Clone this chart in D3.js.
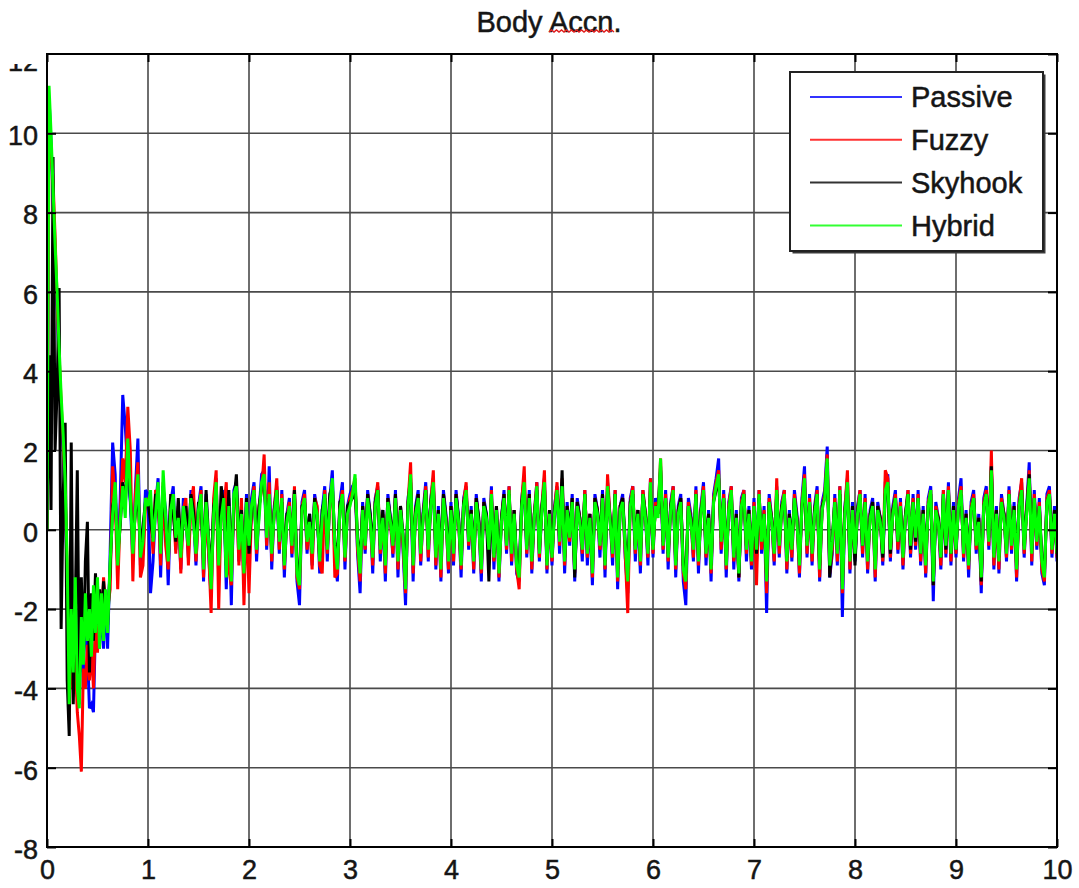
<!DOCTYPE html>
<html><head><meta charset="utf-8">
<script src="https://cdn.jsdelivr.net/npm/d3@7"></script>
<style>
html,body{margin:0;padding:0;background:#fff;}
svg{display:block;font-family:"Liberation Sans",Arial,Helvetica,sans-serif;}
</style>
</head><body>
<svg id="chart" width="1079" height="888"></svg>
<script>
// ---------------- data ----------------
const chartTitle = "Body Accn.";
const xTickValues = [0,1,2,3,4,5,6,7,8,9,10];
const yTickValues = [-8,-6,-4,-2,0,2,4,6,8,10,12];
const seriesNames = ["Passive","Fuzzy","Skyhook","Hybrid"];
const seriesColors = ["#0000ff","#ff0000","#000000","#00ff00"];

// each series is split into segments: [start time, sample step]
const segStart = [0, 0.6, 1, 2, 3, 4, 5, 6, 7, 8, 9];
const segStep  = [0.02, 0.025, 0.025, 0.025, 0.025, 0.025, 0.025, 0.025, 0.025, 0.025, 0.025];

const passive = [
  [0.0,10.9,9.8,8.4,7.0,5.6,4.2,3.0,2.0,0.8,-1.2,-4.6,-2.4,-3.8,-1.6,-4.2,-4.4,-2.6,-3.6,-2.0,-3.0,-4.5,-4.4,-4.6,-2.4,-1.4,-3.0,-1.8,-3.0,-1.6],
  [-3.0,-0.6,2.2,1.4,-1.0,0.8,3.4,2.6,1.5,0.7,-0.8,1.0,2.3,-0.9,-0.6,1.0],
  [0.9,-1.6,-0.8,0.6,1.3,-1.2,1.0,0.5,-1.4,0.7,1.1,-0.5,0.4,-1.0,0.8,0.3,-0.7,1.0,0.4,-0.9,0.6,1.1,-1.3,0.9,-0.6,-1.7,0.6,1.3,-1.2,0.5,1.0,-1.5,0.8,-1.9,1.0,1.2,-0.8,0.6,-1.4,0.9],
  [-1.0,0.8,1.2,-0.8,0.5,1.4,1.5,-0.5,1.6,-1.0,0.6,1.1,-0.6,1.0,-1.2,0.4,0.8,-0.7,1.0,-1.3,-1.9,0.7,1.0,-0.6,0.4,-0.9,0.9,0.5,-1.1,0.5,1.1,-0.8,0.8,1.5,-0.7,-1.3,0.7,1.2,-1.0,0.6],
  [0.9,1.1,1.2,-0.6,-1.6,0.7,-0.6,1.0,0.4,-1.1,0.8,1.1,-0.8,0.5,-1.3,0.9,0.3,-0.7,1.0,-1.2,0.6,-0.5,-1.9,0.8,1.3,-1.3,0.6,1.0,-0.9,0.5,1.2,-0.8,0.8,1.3,-1.0,0.6,-1.3,1.0,0.4,-1.1],
  [0.7,-0.9,1.0,0.3,-1.2,0.8,1.1,-0.5,0.6,-1.1,0.9,0.2,-1.3,0.8,0.4,-0.8,1.1,-1.0,0.6,-1.3,0.3,1.0,-0.6,1.1,-0.9,0.5,-1.1,-1.3,0.8,1.3,-0.7,1.0,-1.1,0.4,1.2,-0.8,0.6,1.3,-1.1,0.5],
  [-0.9,0.6,1.1,-0.6,1.2,-1.1,0.7,-0.4,0.9,-1.3,0.8,0.3,-0.8,1.0,-0.9,0.4,-1.4,0.9,0.5,-0.7,1.0,-1.2,1.2,0.3,-0.9,1.0,-1.5,0.6,0.9,-0.7,-1.6,0.8,1.1,-0.8,0.5,-1.1,1.0,0.4,-0.9,1.3],
  [-0.7,0.8,0.5,1.6,-0.6,1.0,-1.0,0.7,1.1,-1.2,0.6,0.9,-1.3,-1.9,0.8,0.4,-0.8,1.1,-1.1,0.6,1.2,-0.9,0.5,-1.3,0.9,1.3,1.8,-0.6,1.0,-1.2,0.7,1.1,-1.0,0.5,-1.3,0.8,1.0,-0.8,0.6,-1.0],
  [0.8,-0.8,1.0,-0.6,0.6,-2.1,0.9,0.3,-0.9,1.1,-0.7,0.7,1.0,-1.1,0.5,-0.8,1.0,0.4,-1.2,0.8,1.6,-0.7,0.9,-0.9,0.6,1.1,-1.3,0.7,1.0,2.1,-1.2,-0.6,0.9,-0.9,1.1,-2.2,0.6,1.3,-1.1,0.7],
  [-0.8,0.6,1.0,-0.7,0.9,-1.1,0.5,0.8,-1.3,0.7,0.3,-0.9,1.2,1.4,-0.8,0.6,1.0,-0.6,0.8,-1.0,0.4,1.0,-0.7,0.9,-0.5,1.0,-0.9,0.6,-1.2,0.8,1.1,-1.8,0.7,0.3,-1.0,1.0,-0.7,1.2,-0.9,0.7],
  [-0.7,0.8,1.3,-0.8,0.5,-1.2,0.7,1.0,-0.6,0.4,-1.6,0.8,1.1,-0.5,1.6,-1.0,0.6,-1.1,0.9,0.4,-0.8,1.1,-0.6,0.7,-1.3,0.8,1.2,-0.7,0.6,1.7,-0.9,1.0,-0.5,0.8,-1.1,-1.4,0.9,1.1,-0.7,0.6,-0.8]
];
const fuzzy = [
  [0.0,10.3,9.6,8.8,7.4,5.8,4.4,3.2,2.2,0.9,-1.0,-4.8,-2.6,-4.0,-3.2,-4.6,-5.2,-6.1,-3.5,-4.0,-2.9,-3.8,-3.0,-4.0,-2.2,-3.1,-1.8,-2.4,-1.2,-2.0],
  [-2.0,-1.5,1.6,0.8,-1.5,0.4,1.8,1.2,3.1,2.0,-1.3,0.9,1.7,-1.2,-0.9,0.6],
  [0.8,0.5,-0.6,1.0,0.9,-0.9,1.2,-0.4,-1.0,0.8,0.7,-0.6,0.6,-1.1,0.5,0.8,-0.9,0.6,1.1,-0.8,0.4,1.0,-1.2,0.5,-0.5,-2.1,0.8,1.5,-2.0,0.6,0.5,1.2,-1.0,-1.4,0.7,1.0,-0.9,0.8,-1.9,0.5],
  [-1.6,0.5,1.1,-0.6,0.6,1.0,1.9,-0.4,1.2,-0.8,0.5,1.3,-0.5,0.9,-1.0,0.3,0.7,-0.6,1.1,-1.2,-1.5,0.6,0.9,-0.5,0.3,-1.0,0.8,0.6,-0.9,-1.1,1.0,-0.6,0.7,1.2,-1.2,-1.1,0.6,1.0,-0.8,0.5],
  [0.8,1.0,1.3,-0.5,-1.3,0.6,-0.5,0.9,0.3,-0.9,0.7,1.2,-0.6,0.4,-1.1,0.8,0.2,-0.6,0.9,-1.0,0.6,-0.4,-1.6,0.7,1.7,-1.1,0.5,0.9,-0.8,0.4,1.1,-0.7,0.7,1.5,-0.9,0.5,-1.2,0.9,0.3,-1.0],
  [0.6,-0.8,0.9,0.2,-1.0,0.7,1.2,-0.4,0.5,-1.0,0.8,0.2,-1.1,0.7,0.3,-0.7,1.0,-0.8,0.6,-1.2,0.3,0.9,-0.5,1.1,-0.8,0.5,-1.0,-1.5,0.7,1.6,-0.6,0.9,-1.0,0.4,1.2,-0.7,0.6,1.5,-1.0,0.5],
  [-0.8,0.5,1.2,-0.4,1.3,-0.9,0.6,-0.3,0.8,-1.1,0.7,0.3,-0.6,1.0,-0.7,0.4,-1.2,0.8,0.5,-0.5,0.9,-1.0,1.4,0.3,-0.7,1.0,-1.3,0.6,0.8,-0.6,-2.1,0.7,1.1,-0.6,0.5,-0.9,1.0,0.4,-0.7,1.3],
  [-0.6,0.7,0.4,1.8,-0.5,0.9,-0.8,0.6,1.1,-1.0,0.5,0.8,-1.1,-1.5,0.7,0.3,-0.7,1.0,-0.9,0.5,1.1,-0.7,0.4,-1.1,0.8,1.2,1.5,-0.5,0.9,-1.0,0.6,1.1,-0.8,0.4,-1.2,0.7,1.0,-0.6,0.5,-0.9],
  [0.7,-1.4,1.0,-0.5,0.5,-1.6,0.8,0.3,-0.8,1.3,-0.6,0.6,1.0,-1.0,0.4,-0.7,0.9,0.3,-1.1,0.7,1.4,-0.6,0.8,-0.8,0.5,1.0,-1.2,0.6,0.9,1.9,-1.1,-0.5,0.8,-0.8,1.1,-1.6,0.5,1.5,-1.0,0.6],
  [-0.7,0.5,1.0,-0.6,0.8,-1.0,0.4,0.7,-1.2,0.6,0.3,-0.8,1.5,1.3,-0.7,0.5,0.9,-0.5,0.7,-0.9,0.4,1.0,-0.6,0.8,-0.4,0.9,-0.8,0.5,-1.1,0.7,1.0,-1.4,0.6,0.3,-0.9,1.0,-0.6,1.1,-0.8,0.6],
  [-0.6,0.7,1.1,-0.7,0.4,-1.0,0.6,0.9,-0.5,0.3,-1.4,0.7,1.0,-0.4,2.0,-0.9,0.5,-1.0,0.8,0.4,-0.7,1.0,-0.5,0.6,-1.2,0.7,1.3,-0.6,0.5,1.5,-0.8,0.9,-0.4,0.7,-1.0,-1.3,0.8,1.0,-0.6,0.5,-0.7]
];
const skyhook = [
  [0.0,4.4,0.5,9.4,2.0,3.5,6.1,-2.5,0.8,2.7,-3.8,-5.2,2.2,-4.4,-2.0,1.5,-4.0,-1.2,-3.3,-0.8,0.2,-3.6,-1.6,-2.8,-1.1,-2.4,-1.5,-2.2,-1.3,-2.0],
  [-2.4,-1.0,0.6,0.9,-0.6,0.1,1.2,0.6,2.0,0.8,-0.3,0.4,1.0,-0.5,0.1,0.7],
  [0.7,0.2,-0.2,0.9,0.8,-0.4,1.1,0.2,-0.6,0.9,0.4,-0.3,0.8,-0.5,0.2,0.6,-0.3,0.9,0.5,-0.4,0.7,0.6,-0.8,1.0,-0.2,-1.1,0.6,0.9,-0.7,1.1,0.6,-0.9,1.0,-1.0,0.7,1.4,-0.3,0.5,-0.9,0.8],
  [-0.6,0.5,0.9,-0.3,0.6,1.1,1.2,0.1,0.8,-0.5,0.5,1.0,-0.2,0.7,-0.8,0.4,0.5,-0.3,1.0,-0.9,-1.1,0.6,0.7,-0.2,0.4,-0.5,0.8,0.3,-0.7,0.5,0.8,-0.4,0.9,1.1,-0.3,-0.8,0.7,0.8,-0.5,0.6],
  [0.7,0.8,1.1,-0.2,-0.9,0.6,-0.3,0.9,0.4,-0.5,0.7,1.0,-0.4,0.5,-0.7,0.8,0.3,-0.3,0.9,-0.6,0.6,-0.1,-1.2,0.7,1.2,-0.7,0.5,0.9,-0.4,0.4,1.0,-0.4,0.7,1.1,-0.5,0.5,-0.8,0.9,0.3,-0.6],
  [0.6,-0.5,0.9,0.3,-0.8,0.7,0.9,-0.2,0.5,-0.7,0.8,0.3,-0.9,0.7,0.4,-1.3,0.8,-0.6,0.6,-0.9,0.3,0.9,-0.3,0.9,-0.5,0.5,-0.8,-1.0,0.7,1.0,-0.4,0.9,-0.7,0.4,1.0,-0.5,0.6,1.1,-0.8,0.5],
  [-0.6,0.5,0.9,-0.2,1.5,-0.7,0.6,-0.1,0.8,-1.2,0.7,0.3,-0.4,0.9,-0.5,0.4,-0.9,0.8,0.5,-0.3,0.9,-0.8,1.0,0.3,-0.5,0.9,-1.0,0.6,0.8,-0.3,-1.0,0.7,0.9,-0.4,0.5,-0.6,0.9,0.4,-0.5,1.0],
  [-0.4,0.6,0.4,1.5,-0.3,0.8,-0.6,0.6,0.9,-0.8,0.5,0.8,-0.9,-1.1,0.6,0.3,-0.4,0.9,-0.7,0.5,0.9,-0.5,0.4,-0.9,0.7,1.0,1.3,-0.2,0.8,-0.7,0.5,0.9,-0.6,0.4,-1.2,0.6,0.9,-0.4,0.5,-0.7],
  [0.5,-0.6,0.8,-0.2,0.4,-1.2,0.7,0.3,-0.5,0.9,-0.3,0.6,0.8,-0.7,0.4,-0.4,0.8,0.3,-0.8,0.6,1.1,-0.3,0.7,-0.5,0.5,0.9,-0.9,0.6,0.8,1.7,-1.2,-0.2,0.7,-0.5,0.9,-1.3,0.5,1.0,-0.7,0.6],
  [-0.9,0.5,0.8,-0.4,0.7,-0.7,0.4,0.7,-0.8,0.6,0.3,-0.7,0.9,1.1,-0.6,0.5,0.8,-0.3,0.6,-0.6,0.4,0.9,-0.5,0.7,-0.3,0.8,-0.6,0.5,-0.8,0.6,0.9,-1.4,0.5,0.3,-0.7,0.9,-0.5,1.0,-0.6,0.6],
  [-0.5,0.6,0.9,-0.5,0.4,-0.8,0.5,0.8,-0.3,0.3,-1.3,0.6,0.9,-0.2,1.6,-0.6,0.5,-0.7,0.7,0.4,-0.5,0.9,-0.3,0.6,-0.9,0.6,1.0,-0.4,0.5,1.4,-0.5,0.8,-0.2,0.6,-0.7,-1.1,0.7,0.9,-0.4,0.5,-0.6]
];
const hybrid = [
  [0.0,11.2,10.0,8.6,7.2,6.0,4.6,3.4,2.4,1.2,-0.8,-4.4,-2.0,-3.6,-1.2,-4.0,-4.5,-2.2,-3.4,-1.6,-2.8,-2.0,-3.2,-1.4,-2.6,-1.2,-3.0,-1.6,-2.8,-1.5],
  [-2.6,-0.8,0.4,1.2,-0.9,0.2,1.1,0.3,2.3,0.9,-0.6,0.5,1.4,-0.7,-0.3,0.8],
  [0.6,1.0,-0.3,0.4,1.2,-0.6,1.5,0.3,-0.8,0.5,0.9,-0.2,0.3,-0.7,0.6,0.1,-0.4,0.8,0.2,-0.6,0.5,0.9,-1.0,0.7,-0.3,-1.5,0.4,1.2,-0.9,0.3,0.8,-1.2,0.6,-1.3,0.9,1.1,-0.5,0.4,-1.1,0.7],
  [-0.4,0.6,1.0,-0.5,0.3,1.2,1.4,-0.2,0.9,-0.6,0.4,1.0,-0.3,0.8,-0.9,0.2,0.6,-0.4,0.9,-1.1,-1.4,0.5,0.8,-0.3,0.2,-0.6,0.7,0.4,-0.8,0.3,0.9,-0.5,0.6,1.3,-0.4,-1.0,0.5,0.9,-0.7,0.4],
  [0.6,0.9,1.4,-0.3,-1.1,0.5,-0.4,0.8,0.2,-0.7,0.6,1.0,-0.5,0.3,-0.9,0.7,0.2,-0.4,0.8,-0.8,0.5,-0.2,-1.5,0.6,1.4,-0.9,0.4,0.8,-0.6,0.3,1.0,-0.5,0.6,1.2,-0.7,0.4,-1.0,0.8,0.2,-0.8],
  [0.5,-0.6,0.8,0.2,-0.9,0.6,1.0,-0.3,0.4,-0.8,0.7,0.1,-1.0,0.6,0.3,-0.5,0.9,-0.7,0.5,-1.1,0.2,0.8,-0.4,1.0,-0.6,0.4,-0.9,-1.2,0.6,1.2,-0.5,0.8,-0.8,0.3,1.1,-0.6,0.5,1.2,-0.9,0.4],
  [-0.7,0.4,1.0,-0.3,1.1,-0.8,0.5,-0.2,0.7,-1.0,0.6,0.2,-0.5,0.9,-0.6,0.3,-1.1,0.7,0.4,-0.4,0.8,-0.9,1.1,0.2,-0.6,0.9,-1.2,0.5,0.7,-0.4,-1.3,0.6,1.0,-0.5,0.4,-0.8,0.9,0.3,-0.6,1.2],
  [-0.5,0.6,0.3,1.8,-0.4,0.8,-0.7,0.5,1.0,-0.9,0.4,0.7,-1.0,-1.3,0.6,0.2,-0.5,0.9,-0.8,0.4,1.0,-0.6,0.3,-1.0,0.7,1.1,1.4,-0.3,0.8,-0.9,0.5,1.0,-0.7,0.3,-1.1,0.6,0.9,-0.5,0.4,-0.8],
  [0.6,-0.5,0.9,-0.3,0.4,-1.3,0.7,0.2,-0.6,1.0,-0.4,0.5,0.9,-0.8,0.3,-0.5,0.8,0.2,-0.9,0.6,1.3,-0.4,0.7,-0.6,0.4,0.9,-1.0,0.5,0.8,1.8,-0.9,-0.3,0.7,-0.6,1.0,-1.5,0.4,1.2,-0.8,0.5],
  [-0.6,0.4,0.9,-0.4,0.7,-0.8,0.3,0.6,-1.0,0.5,0.2,-0.6,1.0,1.2,-0.5,0.4,0.8,-0.3,0.6,-0.7,0.3,0.9,-0.4,0.7,-0.2,0.8,-0.6,0.4,-0.9,0.6,1.0,-1.3,0.5,0.2,-0.7,0.9,-0.4,1.0,-0.6,0.5],
  [-0.5,0.6,1.0,-0.6,0.3,-0.9,0.5,0.8,-0.4,0.2,-1.2,0.6,0.9,-0.3,1.5,-0.7,0.4,-0.8,0.7,0.3,-0.6,0.9,-0.4,0.5,-1.0,0.6,1.0,-0.5,0.4,1.3,-0.6,0.8,-0.3,0.6,-0.8,-1.2,0.7,0.9,-0.5,0.4,-0.6]
];
const seriesValues = [passive, fuzzy, skyhook, hybrid];

// ---------------- layout ----------------
const W = 1079, H = 888;
const plot = {left: 47, top: 54, right: 1057, bottom: 847};
const svg = d3.select("#chart");

const x = d3.scaleLinear().domain([0, 10]).range([plot.left, plot.right]);
const y = d3.scaleLinear().domain([-8, 12]).range([plot.bottom, plot.top]);
const tickLabel = d => String(d);   // plain hyphen-minus like the original

function toPoints(segments) {
  const pts = [];
  segments.forEach((seg, s) => seg.forEach((v, i) => pts.push([segStart[s] + i * segStep[s], v])));
  return pts;
}

svg.append("rect").attr("width", W).attr("height", H).attr("fill", "#fff");

// grid
const grid = svg.append("g").attr("stroke", "#4a4a4a").attr("stroke-width", 1.6);
grid.selectAll("line.v").data(xTickValues.slice(1, -1)).join("line")
  .attr("x1", d => x(d)).attr("x2", d => x(d))
  .attr("y1", plot.top).attr("y2", plot.bottom);
grid.selectAll("line.h").data(yTickValues.slice(1, -1)).join("line")
  .attr("y1", d => y(d)).attr("y2", d => y(d))
  .attr("x1", plot.left).attr("x2", plot.right);

// clip
svg.append("clipPath").attr("id", "plotclip").append("rect")
  .attr("x", plot.left).attr("y", plot.top)
  .attr("width", plot.right - plot.left).attr("height", plot.bottom - plot.top);

const line = d3.line().x(d => x(d[0])).y(d => y(d[1]));
const dataG = svg.append("g").attr("clip-path", "url(#plotclip)");
seriesValues.forEach((segs, k) => {
  dataG.append("path").datum(toPoints(segs))
    .attr("d", line)
    .attr("fill", "none")
    .attr("stroke", seriesColors[k])
    .attr("stroke-width", 3)
    .attr("stroke-linejoin", "miter")
    .attr("stroke-miterlimit", 3);
});

// axes (ticks pointing inward)
const fontSize = 27;
function styleAxis(g) {
  g.select(".domain").remove();
  g.selectAll(".tick line").attr("stroke", "#000").attr("stroke-width", 2);
  g.selectAll(".tick text").attr("fill", "#151515").attr("stroke", "#151515").attr("stroke-width", 0.5)
    .style("font-size", fontSize + "px")
    .style("font-family", '"Liberation Sans", Arial, sans-serif');
}
const axB = svg.append("g").attr("transform", `translate(0,${plot.bottom})`)
  .call(d3.axisBottom(x).tickValues(xTickValues).tickFormat(tickLabel).tickSizeInner(-8).tickSizeOuter(0).tickPadding(13));
styleAxis(axB);
const axT = svg.append("g").attr("transform", `translate(0,${plot.top})`)
  .call(d3.axisTop(x).tickValues(xTickValues).tickFormat("").tickSizeInner(-8).tickSizeOuter(0));
styleAxis(axT);

// the top "12" label is partly cut off in the original
svg.append("clipPath").attr("id", "ylabclip").append("rect")
  .attr("x", -plot.left).attr("y", plot.top + 10).attr("width", plot.left + 20).attr("height", H);
const axL = svg.append("g").attr("transform", `translate(${plot.left},0)`)
  .attr("clip-path", "url(#ylabclip)")
  .call(d3.axisLeft(y).tickValues(yTickValues).tickFormat(tickLabel).tickSizeInner(-9).tickSizeOuter(0).tickPadding(9));
styleAxis(axL);
axL.selectAll(".tick text").attr("dy", d => d === 12 ? "0.62em" : "0.42em");
const axR = svg.append("g").attr("transform", `translate(${plot.right},0)`)
  .call(d3.axisRight(y).tickValues(yTickValues).tickFormat("").tickSizeInner(-9).tickSizeOuter(0));
styleAxis(axR);

// box
svg.append("rect").attr("x", plot.left).attr("y", plot.top)
  .attr("width", plot.right - plot.left).attr("height", plot.bottom - plot.top)
  .attr("fill", "none").attr("stroke", "#000").attr("stroke-width", 2);

// title
const titleEl = svg.append("text")
  .attr("x", (plot.left + plot.right) / 2 - 3).attr("y", 32)
  .attr("text-anchor", "middle").attr("fill", "#151515").attr("stroke", "#151515").attr("stroke-width", 0.5)
  .style("font-size", "29px").text(chartTitle);
// spell-check style squiggle under "Accn"
(function () {
  const node = titleEl.node();
  const x0 = node.getStartPositionOfChar(5).x;
  const x1 = node.getEndPositionOfChar(8).x + 3;
  const yb = 32;
  let p = `M${x0},${yb}`;
  let up = true;
  for (let xx = x0 + 2.5; xx <= x1; xx += 2.5) { p += `L${xx},${up ? yb - 2 : yb}`; up = !up; }
  svg.append("path").attr("d", p).attr("fill", "none").attr("stroke", "#e02020").attr("stroke-width", 1.6);
})();

// legend
const lg = {x: 790, y: 72, w: 253, h: 179};
svg.append("rect").attr("x", lg.x + 2.5).attr("y", lg.y + 2.5).attr("width", lg.w).attr("height", lg.h)
  .attr("fill", "#3a3a3a");
svg.append("rect").attr("x", lg.x).attr("y", lg.y).attr("width", lg.w).attr("height", lg.h)
  .attr("fill", "#fff").attr("stroke", "#222").attr("stroke-width", 2);
const legendRows = svg.append("g").selectAll("g").data(seriesNames).join("g")
  .attr("transform", (d, i) => `translate(${lg.x},${lg.y + 25 + i * 42.8})`);
legendRows.append("line").attr("x1", 20).attr("x2", 112).attr("y1", 0).attr("y2", 0)
  .attr("stroke", (d, i) => seriesColors[i]).attr("stroke-width", 2).attr("stroke-opacity", 0.8);
legendRows.append("text").attr("x", 121).attr("y", 0).attr("dy", "0.36em")
  .attr("fill", "#151515").attr("stroke", "#151515").attr("stroke-width", 0.5)
  .style("font-size", "29px").text(d => d);
</script>
</body></html>
